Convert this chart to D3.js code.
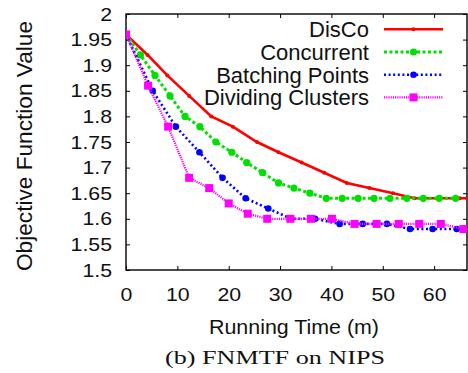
<!DOCTYPE html>
<html><head><meta charset="utf-8">
<script src="https://cdn.jsdelivr.net/npm/d3@7"></script>
<style>body{margin:0;background:#fff}svg{display:block}</style>
</head><body><svg id="c" width="468" height="373"></svg>
<script>
const seriesNames = ["DisCo", "Concurrent", "Batching Points", "Dividing Clusters"];

const discoTime  = [0, 4.2, 8.05, 12.3, 16.6, 20.8, 25.5, 29.7, 34.2, 38.6, 43.0, 47.4, 52.0, 56.2, 60.6, 65.0, 66.4];
const discoValue = [1.96, 1.92, 1.88, 1.84, 1.80, 1.78, 1.75, 1.73, 1.71, 1.69, 1.67, 1.66, 1.65, 1.64, 1.64, 1.64, 1.64];

const concurrentTime  = [0, 2.8, 5.65, 8.57, 11.5, 14.4, 17.5, 20.6, 23.5, 26.6, 29.7, 32.7, 35.8, 39.0, 42.1, 45.2, 48.3, 51.4, 54.7, 57.9, 61.0, 64.2];
const concurrentValue = [1.96, 1.92, 1.88, 1.84, 1.80, 1.78, 1.75, 1.73, 1.71, 1.69, 1.67, 1.66, 1.65, 1.64, 1.64, 1.64, 1.64, 1.64, 1.64, 1.64, 1.64, 1.64];

const batchingTime  = [0, 5.2, 9.7, 14.3, 18.8, 23.3, 27.7, 32.2, 36.8, 41.6, 46.1, 50.8, 55.3, 59.7, 64.4];
const batchingValue = [1.96, 1.85, 1.78, 1.73, 1.68, 1.64, 1.62, 1.60, 1.60, 1.59, 1.59, 1.59, 1.58, 1.58, 1.58];

const dividingTime  = [0, 4.3, 8.2, 12.3, 16.2, 20.0, 23.7, 27.5, 32.0, 36.0, 40.1, 44.5, 48.8, 53.1, 57.1, 61.3, 65.7];
const dividingValue = [1.96, 1.86, 1.78, 1.68, 1.66, 1.63, 1.61, 1.60, 1.60, 1.60, 1.60, 1.59, 1.59, 1.59, 1.59, 1.59, 1.58];

const xTickValues = [0, 10, 20, 30, 40, 50, 60];
const yTickValues = [1.5, 1.55, 1.6, 1.65, 1.7, 1.75, 1.8, 1.85, 1.9, 1.95, 2];
const xLabel = "Running Time (m)";
const yLabel = "Objective Function Value";
const caption = "(b) FNMTF on NIPS";

const svg = d3.select("#c");
const L = 126, R = 467, T = 14, B = 270;
const x = d3.scaleLinear().domain([0, 66.4]).range([L, R]);
const y = d3.scaleLinear().domain([1.5, 2]).range([B, T]);
const sans = "'Liberation Sans', Arial, Helvetica, sans-serif";

const styles = [
  {color: "#ff0000", width: 2.6, dash: null, marker: "dot", size: 2},
  {color: "#00e000", width: 3, dash: "3,2.5", marker: "circle", size: 3.6},
  {color: "#0000ff", width: 2.6, dash: "2,2.6", marker: "circle", size: 3.3},
  {color: "#ff00ff", width: 2.2, dash: "1.2,1", marker: "square", size: 4}
];
const series = [
  {t: discoTime, v: discoValue},
  {t: concurrentTime, v: concurrentValue},
  {t: batchingTime, v: batchingValue},
  {t: dividingTime, v: dividingValue}
].map((s, i) => ({name: seriesNames[i], style: styles[i], pts: s.t.map((t, j) => [t, s.v[j]])}));

svg.append("defs").append("clipPath").attr("id", "clip")
  .append("rect").attr("x", L).attr("y", T).attr("width", R - L).attr("height", B - T);

function tickStyle(g) {
  g.select(".domain").remove();
  g.selectAll("line").attr("stroke", "#000").attr("stroke-width", 1);
  g.selectAll("text").attr("font-family", sans).attr("font-size", 19).attr("fill", "#111");
}
svg.append("g").attr("transform", `translate(${L},0)`)
  .call(d3.axisLeft(y).tickValues(yTickValues).tickSizeInner(-4).tickSizeOuter(0).tickPadding(14).tickFormat(d => String(d)))
  .call(tickStyle);
svg.append("g").attr("transform", `translate(${R},0)`)
  .call(d3.axisRight(y).tickValues(yTickValues).tickSizeInner(-4).tickSizeOuter(0).tickFormat(""))
  .call(tickStyle);
svg.append("g").attr("transform", `translate(0,${B})`)
  .call(d3.axisBottom(x).tickValues(xTickValues).tickSizeInner(-4).tickSizeOuter(0).tickPadding(18).tickFormat(d => String(d)))
  .call(tickStyle);
svg.append("g").attr("transform", `translate(0,${T})`)
  .call(d3.axisTop(x).tickValues(xTickValues).tickSizeInner(-4).tickSizeOuter(0).tickFormat(""))
  .call(tickStyle);
// stretch tick labels horizontally a bit
svg.selectAll(".tick text").each(function() {
  const w = this.getComputedTextLength();
  if (w > 0) d3.select(this).attr("textLength", w * 1.12).attr("lengthAdjust", "spacingAndGlyphs");
});

svg.append("rect").attr("x", L).attr("y", T).attr("width", R - L).attr("height", B - T)
  .attr("fill", "none").attr("stroke", "#000").attr("stroke-width", 1.4);

const line = d3.line().x(d => x(d[0])).y(d => y(d[1]));
const plot = svg.append("g").attr("clip-path", "url(#clip)");

function drawMarker(g, st, cx, cy) {
  if (st.marker === "square") {
    g.append("rect").attr("x", cx - st.size).attr("y", cy - st.size)
      .attr("width", st.size * 2).attr("height", st.size * 2).attr("fill", st.color);
  } else {
    g.append("circle").attr("cx", cx).attr("cy", cy).attr("r", st.size).attr("fill", st.color);
  }
}

series.forEach(s => {
  const g = plot.append("g");
  g.append("path").attr("d", line(s.pts)).attr("fill", "none")
    .attr("stroke", s.style.color).attr("stroke-width", s.style.width)
    .attr("stroke-dasharray", s.style.dash);
  s.pts.forEach(p => drawMarker(g, s.style, x(p[0]), y(p[1])));
});

// legend
const lg = svg.append("g");
series.forEach((s, i) => {
  const ly = 29.3 + i * 22.7;
  lg.append("text").attr("x", 369).attr("y", ly + 8).attr("text-anchor", "end")
    .attr("font-family", sans).attr("font-size", 22).attr("fill", "#111").text(s.name);
  lg.append("line").attr("x1", 384).attr("x2", 443).attr("y1", ly).attr("y2", ly)
    .attr("stroke", s.style.color).attr("stroke-width", s.style.width).attr("stroke-dasharray", s.style.dash);
  drawMarker(lg, s.style, 413.5, ly);
});

// axis labels
svg.append("text").attr("x", 294).attr("y", 334).attr("text-anchor", "middle")
  .attr("font-family", sans).attr("font-size", 20).attr("fill", "#111")
  .attr("textLength", 170).attr("lengthAdjust", "spacingAndGlyphs").text(xLabel);
svg.append("text").attr("transform", "translate(31.5,146) rotate(-90)").attr("text-anchor", "middle")
  .attr("font-family", sans).attr("font-size", 22).attr("fill", "#111")
  .attr("textLength", 250).attr("lengthAdjust", "spacingAndGlyphs").text(yLabel);
svg.append("text").attr("x", 275).attr("y", 364).attr("text-anchor", "middle")
  .attr("font-family", "'Liberation Serif', 'Times New Roman', serif").attr("font-size", 19).attr("fill", "#111")
  .attr("textLength", 220).attr("lengthAdjust", "spacingAndGlyphs").text(caption);
</script></body></html>
